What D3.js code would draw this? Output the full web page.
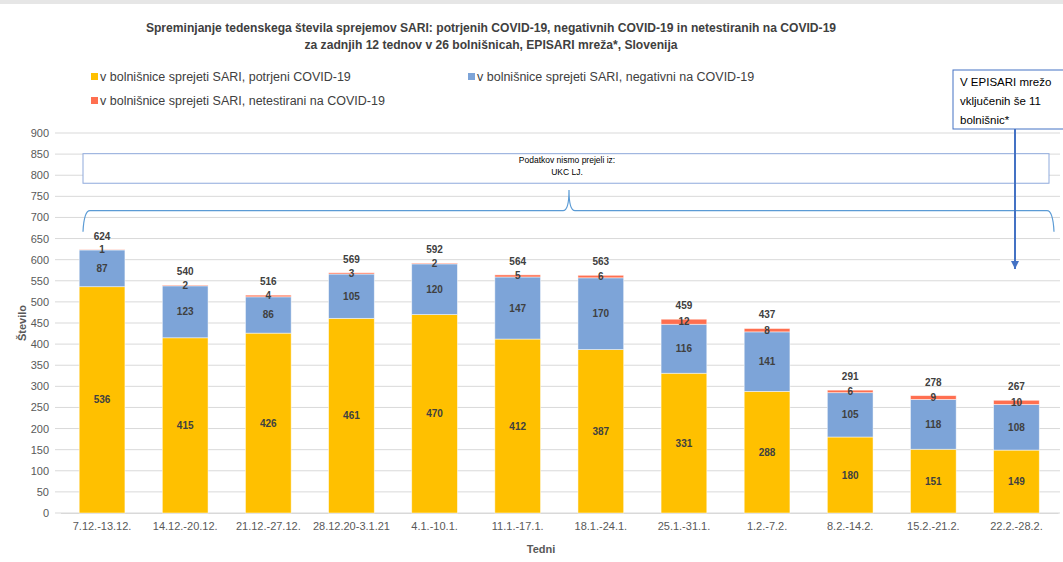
<!DOCTYPE html>
<html>
<head>
<meta charset="utf-8">
<script src="https://cdn.jsdelivr.net/npm/d3@7"></script>
<style>
  body { margin: 0; background: #fff; }
  svg { font-family: "Liberation Sans", Arial, sans-serif; }
</style>
</head>
<body>
<div id="chart"></div>
<script>
const weeks = ["7.12.-13.12.", "14.12.-20.12.", "21.12.-27.12.", "28.12.20-3.1.21", "4.1.-10.1.",
  "11.1.-17.1.", "18.1.-24.1.", "25.1.-31.1.", "1.2.-7.2.", "8.2.-14.2.", "15.2.-21.2.", "22.2.-28.2."];
const confirmed = [536, 415, 426, 461, 470, 412, 387, 331, 288, 180, 151, 149];
const negative = [87, 123, 86, 105, 120, 147, 170, 116, 141, 105, 118, 108];
const untested = [1, 2, 4, 3, 2, 5, 6, 12, 8, 6, 9, 10];
const seriesNames = ["v bolnišnice sprejeti SARI, potrjeni COVID-19",
  "v bolnišnice sprejeti SARI, negativni na COVID-19",
  "v bolnišnice sprejeti SARI, netestirani na COVID-19"];
const colors = ["#FFC000", "#7DA4D8", "#FF6F50"];
const yTicks = d3.range(0, 901, 50);

const W = 1063, H = 562;
const svg = d3.select("#chart").append("svg").attr("width", W).attr("height", H);

// light frame line on top
svg.append("rect").attr("x", 0).attr("y", 0).attr("width", W).attr("height", 4).attr("fill", "#e6e6e6");

const x = d3.scaleBand().domain(weeks).range([60.5, 1058]).paddingInner(0.45).paddingOuter(0.225);
const y = d3.scaleLinear().domain([0, 900]).range([513, 133]);

// gridlines
svg.append("g").selectAll("line").data(yTicks).join("line")
  .attr("x1", 55).attr("x2", 1060)
  .attr("y1", d => y(d)).attr("y2", d => y(d))
  .attr("stroke", "#d9d9d9").attr("stroke-width", 1);

// y axis labels
const yAxis = svg.append("g").attr("transform", "translate(49,0)")
  .call(d3.axisLeft(y).tickValues(yTicks).tickSize(0).tickPadding(0));
yAxis.select(".domain").remove();
yAxis.selectAll("text").attr("font-size", 11).attr("fill", "#595959")
  .attr("font-family", "Liberation Sans, Arial, sans-serif");

// x axis labels
const xAxis = svg.append("g").attr("transform", "translate(0,513)")
  .call(d3.axisBottom(x).tickSize(0).tickPadding(9));
xAxis.select(".domain").attr("stroke", "#d9d9d9");
xAxis.selectAll("text").attr("font-size", 11).attr("fill", "#595959")
  .attr("font-family", "Liberation Sans, Arial, sans-serif");

// stacked data
const rows = weeks.map((w, i) => ({ week: w, c: confirmed[i], n: negative[i], u: untested[i] }));
const stack = d3.stack().keys(["c", "n", "u"])(rows);

const layers = svg.append("g").selectAll("g").data(stack).join("g")
  .attr("fill", (d, i) => colors[i]);
layers.selectAll("rect").data(d => d).join("rect")
  .attr("x", d => x(d.data.week))
  .attr("width", x.bandwidth())
  .attr("y", d => y(d[1]))
  .attr("height", d => y(d[0]) - y(d[1]))
  .attr("stroke", "#fff").attr("stroke-opacity", 0.6).attr("stroke-width", 0.8);

// segment labels
layers.selectAll("text").data(d => d).join("text")
  .attr("x", d => x(d.data.week) + x.bandwidth() / 2)
  .attr("y", d => (y(d[0]) + y(d[1])) / 2)
  .attr("dy", "0.35em")
  .attr("text-anchor", "middle")
  .attr("font-size", 10).attr("font-weight", "bold").attr("fill", "#404040")
  .text(d => d[1] - d[0]);

// totals
svg.append("g").selectAll("text").data(rows).join("text")
  .attr("x", d => x(d.week) + x.bandwidth() / 2)
  .attr("y", d => y(d.c + d.n + d.u) - 10)
  .attr("text-anchor", "middle")
  .attr("font-size", 10).attr("font-weight", "bold").attr("fill", "#404040")
  .text(d => d.c + d.n + d.u);

// title
const title = svg.append("text").attr("x", 491).attr("text-anchor", "middle")
  .attr("font-size", 12.1).attr("font-weight", "bold").attr("fill", "#404040");
title.append("tspan").attr("x", 491).attr("y", 32)
  .text("Spreminjanje tedenskega števila sprejemov SARI: potrjenih COVID-19, negativnih COVID-19 in netestiranih na COVID-19");
title.append("tspan").attr("x", 491).attr("y", 49)
  .text("za zadnjih 12 tednov v 26 bolnišnicah, EPISARI mreža*, Slovenija");

// legend
const legendPos = [[91, 77], [468, 77], [91, 101]];
const lg = svg.append("g").selectAll("g").data(seriesNames).join("g")
  .attr("transform", (d, i) => `translate(${legendPos[i][0]},${legendPos[i][1]})`);
lg.append("rect").attr("x", 0).attr("y", -4).attr("width", 7).attr("height", 7)
  .attr("fill", (d, i) => colors[i]);
lg.append("text").attr("x", 9).attr("y", 0).attr("dy", "0.35em")
  .attr("font-size", 12.5).attr("fill", "#404040").text(d => d);

// axis titles
svg.append("text").attr("x", 541).attr("y", 553).attr("text-anchor", "middle")
  .attr("font-size", 11).attr("font-weight", "bold").attr("fill", "#595959").text("Tedni");
svg.append("text").attr("transform", "translate(26,323) rotate(-90)").attr("text-anchor", "middle")
  .attr("font-size", 11).attr("font-weight", "bold").attr("fill", "#595959").text("Število");

// "Podatkov nismo prejeli iz" box
svg.append("rect").attr("x", 83).attr("y", y(851)).attr("width", 966).attr("height", y(781) - y(851))
  .attr("fill", "#fff").attr("stroke", "#8FAADC").attr("stroke-width", 1);
svg.append("text").attr("x", 567).attr("y", y(828)).attr("text-anchor", "middle")
  .attr("font-size", 8.5).attr("fill", "#000").text("Podatkov nismo prejeli iz:");
svg.append("text").attr("x", 567).attr("y", y(800)).attr("text-anchor", "middle")
  .attr("font-size", 8.5).attr("fill", "#000").text("UKC LJ.");

// curly brace
const yb = y(716), ye = y(666), yt = y(765);
svg.append("path")
  .attr("d", `M83,${ye} Q84,${yb} 90,${yb} H563 Q569,${yb} 569,${yt} Q569,${yb} 575,${yb} H1047 Q1053,${yb} 1054,${ye}`)
  .attr("fill", "none").attr("stroke", "#5B9BD5").attr("stroke-width", 1.2);

// right annotation box with arrow
svg.append("defs").append("marker").attr("id", "arr").attr("viewBox", "0 0 10 10")
  .attr("refX", 10).attr("refY", 5).attr("markerWidth", 4).attr("markerHeight", 4).attr("orient", "auto")
  .append("path").attr("d", "M0,0 L10,5 L0,10 z").attr("fill", "#4472C4");
svg.append("line").attr("x1", 1015).attr("x2", 1015).attr("y1", 129).attr("y2", 269)
  .attr("stroke", "#4472C4").attr("stroke-width", 2).attr("marker-end", "url(#arr)");
svg.append("rect").attr("x", 953).attr("y", 70).attr("width", 112).attr("height", 59)
  .attr("fill", "#fff").attr("stroke", "#4472C4").attr("stroke-width", 1);
const note = svg.append("text").attr("font-size", 11.5).attr("fill", "#000");
["V EPISARI mrežo", "vključenih še 11", "bolnišnic*"].forEach((t, i) => {
  note.append("tspan").attr("x", 960).attr("y", 86 + i * 19).text(t);
});
</script>
</body>
</html>
